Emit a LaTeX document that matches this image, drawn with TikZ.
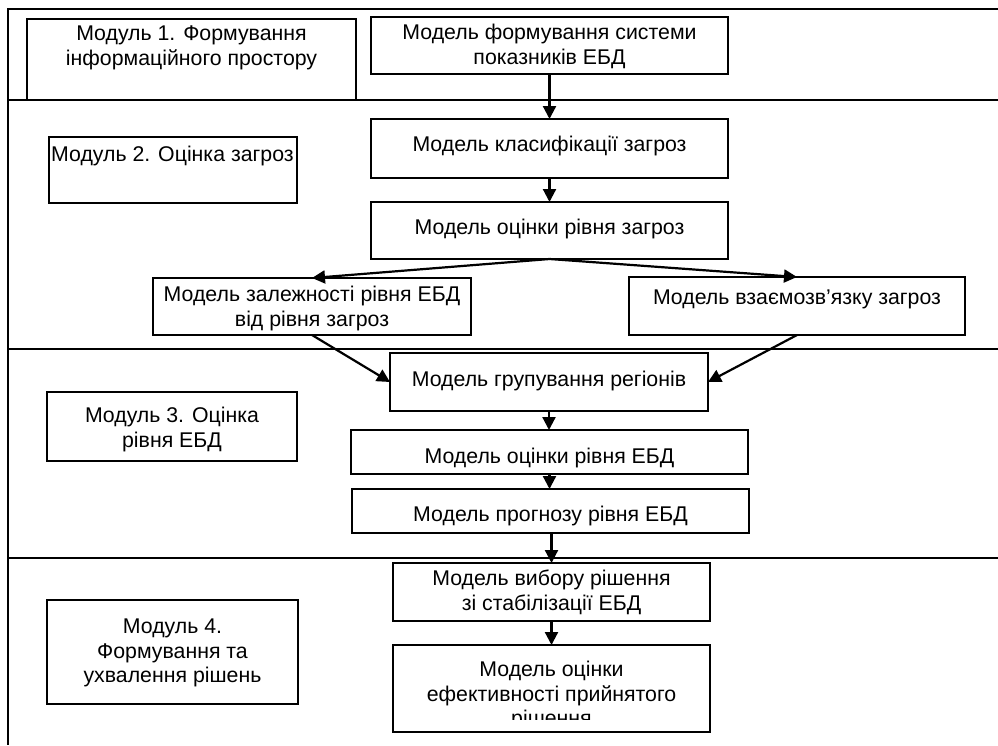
\documentclass[tikz,border=0pt]{standalone}
\usepackage{fontspec}
\setmainfont{Liberation Sans}
\usetikzlibrary{arrows.meta}
\begin{document}
\begin{tikzpicture}[x=1pt,y=-1pt,
  box/.style={draw, line width=1.7pt, inner sep=0pt, outer sep=0pt},
  frame/.style={line width=2.3pt},
  txt/.style={align=center, font=\fontsize{21.3}{24.5}\selectfont, inner sep=0pt},
  arr/.style={line width=2.2pt, -{Triangle[length=13pt,width=13pt]}}]
\useasboundingbox (0,0) rectangle (998,745);
% frame
\draw[frame] (8,9) -- (998,9);
\draw[frame] (8,100) -- (998,100);
\draw[frame] (8,349) -- (998,349);
\draw[frame] (8,558) -- (998,558);
\draw[frame] (8,8) -- (8,745);
% boxes
\node[box, minimum width=329pt, minimum height=81pt] (m1) at (191.5,59.5) {};
\node[box, minimum width=357pt, minimum height=57pt] (b1) at (549.5,45.5) {};
\node[box, minimum width=357pt, minimum height=59pt] (b2) at (549.5,148.5) {};
\node[box, minimum width=248pt, minimum height=66pt] (m2) at (173,170) {};
\node[box, minimum width=357pt, minimum height=57pt] (b3) at (549.5,230.5) {};
\node[box, minimum width=318pt, minimum height=57pt] (b4) at (312,306.5) {};
\node[box, minimum width=336pt, minimum height=58pt] (b5) at (797,306) {};
\node[box, minimum width=318pt, minimum height=58pt] (b6) at (549,382) {};
\node[box, minimum width=250pt, minimum height=69pt] (m3) at (172,426.5) {};
\node[box, minimum width=397pt, minimum height=44pt] (b7) at (549.5,452) {};
\node[box, minimum width=397pt, minimum height=44pt] (b8) at (550.5,511) {};
\node[box, minimum width=317pt, minimum height=58pt] (b9) at (551.5,592) {};
\node[box, minimum width=251pt, minimum height=104pt] (m4) at (172.5,652) {};
\node[box, minimum width=317pt, minimum height=87pt] (b10) at (551.5,688.5) {};
% texts
\node[txt] (t1) at (191.5,48) {Модуль 1. Формування\\інформаційного простору};
\node[txt] (t2) at (549.5,46.5) {Модель формування системи\\показників ЕБД};
\node[txt] (t3) at (549.5,145.5) {Модель класифікації загроз};
\node[txt, anchor=west] (t4) at (51,156) {Модуль 2. Оцінка загроз};
\node[txt] (t5) at (549.5,228.5) {Модель оцінки рівня загроз};
\node[txt] (t6) at (312,308.5) {Модель залежності рівня ЕБД\\від рівня загроз};
\node[txt] (t7) at (797,299.5) {Модель взаємозв’язку загроз};
\node[txt] (t8) at (549,380.5) {Модель групування регіонів};
\node[txt] (t9) at (172,429.5) {Модуль 3. Оцінка\\рівня ЕБД};
\node[txt] (t10) at (549.5,457.5) {Модель оцінки рівня ЕБД};
\node[txt] (t11) at (550.5,515.5) {Модель прогнозу рівня ЕБД};
\node[txt] (t12) at (551.5,592.5) {Модель вибору рішення\\зі стабілізації ЕБД};
\node[txt] (t13) at (172.5,653) {Модуль 4.\\Формування та\\ухвалення рішень};
\begin{scope}
\clip (393,645) rectangle (710,719);
\node[txt] (t14) at (551.5,695.5) {Модель оцінки\\ефективності прийнятого\\рішення};
\end{scope}
% arrows
\draw[arr] (b1.south) -- (b2.north);
\draw[arr] (b2.south) -- (b3.north);
\draw[arr] (b3.south) -- (b4.north);
\draw[arr] (b3.south) -- (b5.north);
\draw[arr] (b4.south) -- (b6.west);
\draw[arr] (b5.south) -- (b6.east);
\draw[arr] (b6.south) -- (b6.south |- b7.north);
\draw[arr] (b7.south) -- (b7.south |- b8.north);
\draw[arr] (b9.north |- b8.south) -- (b9.north);
\draw[arr] (b9.south) -- (b10.north);
\end{tikzpicture}
\end{document}
